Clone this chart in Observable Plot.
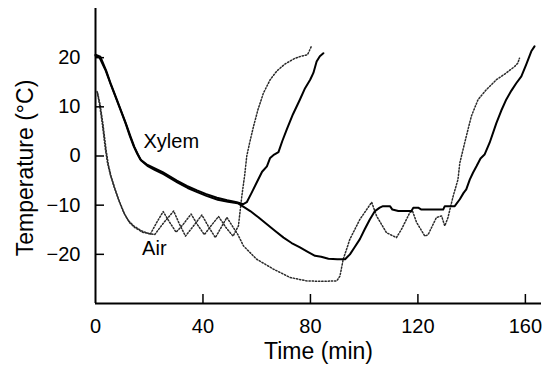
<!DOCTYPE html>
<html><head><meta charset="utf-8">
<script src="https://cdn.jsdelivr.net/npm/d3@7"></script>
<script src="https://cdn.jsdelivr.net/npm/@observablehq/plot@0.6"></script>
<style>body{margin:0;background:#fff}</style>
</head><body><div id="chart"></div>
<script>
// Xylem, run 1 (time in min, temperature in °C)
const xylemTime1 = [0,1.5,3.7,5.5,7.4,9.3,11.1,12.7,14.2,15.5,16.7,19,21.7,25,30.3,34,37.8,41,45.2,49,52.6,55,56.3,58,60,62,63.8,65,66.5,68.1,69.5,71.2,73.5,76.1,78,79.9,81.1,82.3,83.5,84.8];
const xylemTemp1 = [20.4,20,17.5,14.8,12.1,9.4,6.8,4.2,2.0,0.5,-0.7,-1.7,-2.4,-3.3,-5.0,-6.1,-7.0,-7.7,-8.5,-9.0,-9.4,-9.8,-9.4,-7.6,-5.4,-3.2,-2.1,-0.4,0.3,0.8,3,5.4,8.5,11.5,13.8,15.5,16.9,19.2,20.3,20.9];
// Xylem, run 2
const xylemTime2 = [0,1.8,4,5.8,7.7,9.6,11.4,13,14.5,15.8,17,19.3,22,25.3,30.6,34.3,38.1,41.3,45.5,49.3,52.9,55,57.6,60.5,63.8,67,70,73,76.1,79,81.7,84,86.7,90,92.9,94.7,96.5,98.4,100.2,102.1,104,105.8,107,109.6,110.5,112.7,117.6,118.3,120.1,121.3,129.4,130,133.7,135.6,137,138,139.3,140.5,141.8,143.3,144.8,146.7,149.2,151,152.9,154.8,156.6,158.5,160.3,162.2,163.4];
const xylemTemp2 = [20.6,20.2,17.3,14.5,11.8,9.1,6.5,4.0,1.8,0.3,-0.9,-2.0,-2.8,-3.7,-5.4,-6.5,-7.4,-8.1,-8.9,-9.3,-9.6,-10.3,-11.2,-12.4,-13.9,-15.3,-16.6,-17.7,-18.6,-19.5,-20.3,-20.5,-20.9,-21,-21,-20,-18.5,-16.9,-14.9,-12.9,-11.2,-10.5,-10.2,-10.2,-10.9,-11.2,-11.2,-10.5,-10.5,-10.9,-10.9,-10.2,-10.2,-8.8,-7.5,-6.8,-4.8,-3.4,-2.1,-0.5,0.3,2.7,6.7,9.2,11.5,13.3,14.8,16.2,18.6,21.3,22.3];
// Air, run 1
const airTime1 = [0.6,1.5,2.5,3.7,4.5,5.5,6.8,8.5,10.5,12.3,14.2,17,20.4,22.8,25.2,27.5,30,32.5,35.6,38,40.5,43,45.8,48.5,51.2,53.2,54.5,55.5,56.3,57.5,58.8,60.5,62.5,65,67.5,70.5,74,76.5,78.9,79.6,80.5];
const airTemp1 = [13.1,10.5,6.7,1.3,-1.5,-3.8,-6.1,-8.8,-11.5,-13.2,-14.2,-15.2,-15.9,-13.5,-11.3,-13.4,-15.5,-14,-11.8,-14,-16,-14.2,-12.3,-14.5,-16.3,-14.2,-8,-4,0,3,6,9.5,12.8,15.5,17.3,18.7,19.8,20.3,20.6,21.4,22.5];
// Air, run 2
const airTime2 = [0.8,1.8,2.8,4,4.8,5.8,7.1,8.8,10.8,12.6,14.5,17.5,22,25.5,29.1,31.2,33.5,36.5,39.6,42,44.6,46.8,48.9,51,53,55.1,60,66.2,72.4,78.6,84,89.8,91,92.2,94.7,98.4,102.8,104.6,108.3,112,113.9,117,118,119.5,122.6,123.8,126.9,128.8,130,131.2,133.1,134.9,135.6,138,139.9,142.4,145.5,149.2,152.9,156,157.2,157.8];
const airTemp2 = [12.8,10.2,6.4,1.0,-1.8,-4.1,-6.4,-9.1,-11.8,-13.5,-14.5,-15.5,-16,-13.5,-11.2,-13.8,-16.3,-14.2,-12,-14.3,-16.6,-14.5,-12.5,-14.3,-16,-18.3,-21,-23,-24.7,-25.4,-25.5,-25.4,-24.4,-21,-16.9,-12.9,-9.4,-12.2,-15.6,-16.6,-14.9,-11.5,-11.2,-13.5,-16.3,-16,-12.5,-12.2,-14.2,-12.5,-8.2,-4.8,-1.4,4,8.1,11.5,13.5,15.5,16.9,18.2,18.9,19.9];

const xTicks = [0, 40, 80, 120, 160];
const yTicks = [-20, -10, 0, 10, 20];
const seriesLabels = [{t: 28.2, v: 3.0, label: "Xylem"}, {t: 21.9, v: -18.8, label: "Air"}];
const xTitle = "Time (min)";
const yTitle = "Temperature (°C)";

const W = 544, H = 370, ML = 95, MR = 3, MT = 8, MB = 67, TICK = 9;
const rows = (t, v) => t.map((x, i) => ({t: x, v: v[i]}));
const fmt = d => d < 0 ? "\u2212" + Math.abs(d) : String(d);
const dotted = {x: "t", y: "v", stroke: "#2a2a2a", strokeWidth: 1.5, strokeDasharray: "1.3,1.9"};
const solid = {x: "t", y: "v", stroke: "#000", strokeWidth: 2};

const chart = Plot.plot({
  width: W, height: H,
  marginLeft: ML, marginRight: MR, marginTop: MT, marginBottom: MB,
  style: {fontFamily: "'Liberation Sans', Arial, sans-serif", background: "#fff", color: "#000"},
  x: {domain: [0, 166]},
  y: {domain: [-30, 30]},
  marks: [
    Plot.line(rows(airTime1, airTemp1), dotted),
    Plot.line(rows(airTime2, airTemp2), dotted),
    Plot.line(rows(xylemTime2, xylemTemp2), solid),
    Plot.line(rows(xylemTime1, xylemTemp1), solid),
    Plot.ruleX([0], {strokeWidth: 2}),
    Plot.ruleY([-30], {strokeWidth: 2}),
    Plot.tickY(yTicks, {y: d => d, insetRight: (W - ML - MR) - TICK, strokeWidth: 1.5}),
    Plot.tickX(xTicks.slice(1), {x: d => d, insetTop: (H - MT - MB) - TICK, strokeWidth: 1.5}),
    Plot.axisX({ticks: xTicks, tickSize: 0, tickPadding: 15, fontSize: 20, label: null, tickFormat: fmt}),
    Plot.axisY({ticks: yTicks, tickSize: 0, tickPadding: 15, fontSize: 20, label: null, tickFormat: fmt}),
    Plot.text(seriesLabels, {x: "t", y: "v", text: "label", fontSize: 20, fill: "#000"}),
    Plot.text([xTitle], {frameAnchor: "bottom", textAnchor: "middle", lineAnchor: "middle", dy: 48, fontSize: 23, fill: "#000"}),
    Plot.text([yTitle], {frameAnchor: "left", textAnchor: "middle", lineAnchor: "middle", dx: -70, dy: 12, rotate: -90, fontSize: 23, fill: "#000"})
  ]
});
document.getElementById("chart").appendChild(chart);
</script>
</body></html>
